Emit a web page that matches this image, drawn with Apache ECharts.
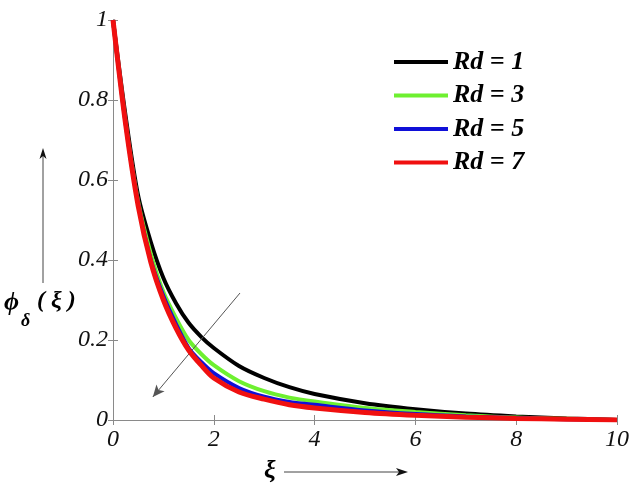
<!DOCTYPE html>
<html>
<head>
<meta charset="utf-8">
<script src="https://cdn.jsdelivr.net/npm/echarts@6/dist/echarts.min.js"></script>
<style>
  html, body { margin: 0; padding: 0; background: #fff; }
  #chart { width: 640px; height: 498px; }
</style>
</head>
<body>
<div id="chart"></div>
<script>
// values
var xi = [0, 0.25, 0.5, 0.75, 1, 1.25, 1.5, 1.75, 2, 2.5, 3, 3.5, 4, 5, 6, 7, 8, 9, 10];
var rd1 = [1, 0.76, 0.56, 0.445, 0.355, 0.292, 0.243, 0.208, 0.18, 0.135, 0.105, 0.082, 0.065, 0.042, 0.027, 0.016, 0.009, 0.004, 0];
var rd3 = [1, 0.745, 0.545, 0.415, 0.32, 0.255, 0.20, 0.165, 0.137, 0.097, 0.072, 0.056, 0.046, 0.030, 0.020, 0.012, 0.006, 0.003, 0];
var rd5 = [1, 0.742, 0.54, 0.40, 0.31, 0.24, 0.18, 0.145, 0.117, 0.080, 0.058, 0.045, 0.038, 0.024, 0.015, 0.009, 0.005, 0.002, 0];
var rd7 = [1, 0.74, 0.535, 0.395, 0.30, 0.23, 0.175, 0.137, 0.105, 0.070, 0.052, 0.038, 0.030, 0.019, 0.012, 0.007, 0.004, 0.002, 0];
var seriesNames = ['Rd = 1', 'Rd = 3', 'Rd = 5', 'Rd = 7'];
var seriesColors = ['#000000', '#6ef030', '#1010d8', '#f01010'];
var xTicks = [0, 2, 4, 6, 8, 10];
var yTicks = [0, 0.2, 0.4, 0.6, 0.8, 1];

var serif = '"Liberation Serif", "Times New Roman", serif';

function pairs(ys) {
  return xi.map(function (x, i) { return [x, ys[i]]; });
}

var chart = echarts.init(document.getElementById('chart'));

var allY = [rd1, rd3, rd5, rd7];
var series = allY.map(function (ys, k) {
  return {
    name: seriesNames[k],
    type: 'line',
    smooth: 0.3,
    showSymbol: false,
    data: pairs(ys),
    lineStyle: { color: seriesColors[k], width: k === 3 ? 5 : 4 },
    itemStyle: { color: seriesColors[k] },
    z: 2 + k
  };
});

// the diagonal "increasing Rd" arrow
series.push({
  type: 'line',
  data: [],
  silent: true,
  markLine: {
    silent: true,
    symbol: ['none', 'arrow'],
    symbolSize: [8, 12],
    label: { show: false },
    lineStyle: { color: '#555', width: 1, type: 'solid' },
    data: [[{ coord: [2.52, 0.3175] }, { coord: [0.79, 0.0575] }]]
  }
});

var axisCommon = {
  type: 'value',
  axisLine: { show: true, lineStyle: { color: '#8a8a8a', width: 1 } },
  axisTick: { show: true, inside: true, length: 5, lineStyle: { color: '#8a8a8a' } },
  splitLine: { show: false }
};

var option = {
  backgroundColor: '#fff',
  animation: false,
  grid: { left: 113, right: 23, top: 20, bottom: 78 },
  legend: {
    data: seriesNames,
    orient: 'vertical',
    left: 394,
    top: 49,
    padding: 0,
    icon: 'rect',
    itemWidth: 54,
    itemHeight: 4,
    itemGap: 7.5,
    textStyle: {
      fontFamily: serif, fontStyle: 'italic', fontWeight: 'bold',
      fontSize: 26, color: '#000', lineHeight: 24
    }
  },
  xAxis: [
    Object.assign({}, axisCommon, {
      min: 0, max: 10, interval: 2,
      axisLabel: {
        fontFamily: serif, fontStyle: 'italic', fontSize: 24, color: '#111', margin: 8,
        formatter: function (v) { return xTicks.indexOf(v) >= 0 ? String(v) : ''; }
      }
    }),
    Object.assign({}, axisCommon, {
      min: 0, max: 10, interval: 2, position: 'top',
      axisLabel: { show: false }
    })
  ],
  yAxis: [
    Object.assign({}, axisCommon, {
      min: 0, max: 1, interval: 0.2,
      axisLabel: {
        fontFamily: serif, fontStyle: 'italic', fontSize: 24, color: '#111', margin: 5,
        formatter: function (v) {
          var r = Math.round(v * 10) / 10;
          return yTicks.indexOf(r) >= 0 ? String(r) : '';
        }
      }
    }),
    Object.assign({}, axisCommon, {
      min: 0, max: 1, interval: 0.2, position: 'right',
      axisLabel: { show: false }
    })
  ],
  graphic: [
    // y label with arrow
    { type: 'line', shape: { x1: 43, y1: 283, x2: 43, y2: 156 }, style: { stroke: '#444', lineWidth: 1 } },
    { type: 'polygon', shape: { points: [[43, 148], [39.5, 159], [43, 156], [46.5, 159]] }, style: { fill: '#111' } },
    { type: 'text', left: 4, top: 290, style: { text: 'ϕ', font: 'italic bold 26px ' + serif, fill: '#000' } },
    { type: 'text', left: 21, top: 312, style: { text: 'δ', font: 'italic bold 18px ' + serif, fill: '#000' } },
    { type: 'text', left: 37, top: 289, style: { text: '( ξ )', font: 'italic bold 24px ' + serif, fill: '#000' } },
    // x label with arrow
    { type: 'text', left: 264, top: 458, style: { text: 'ξ', font: 'italic bold 26px ' + serif, fill: '#000' } },
    { type: 'line', shape: { x1: 284, y1: 472, x2: 400, y2: 472 }, style: { stroke: '#444', lineWidth: 1 } },
    { type: 'polygon', shape: { points: [[408, 472], [396, 468], [399, 472], [396, 476]] }, style: { fill: '#111' } }
  ],
  series: series
};

chart.setOption(option);
</script>
</body>
</html>
